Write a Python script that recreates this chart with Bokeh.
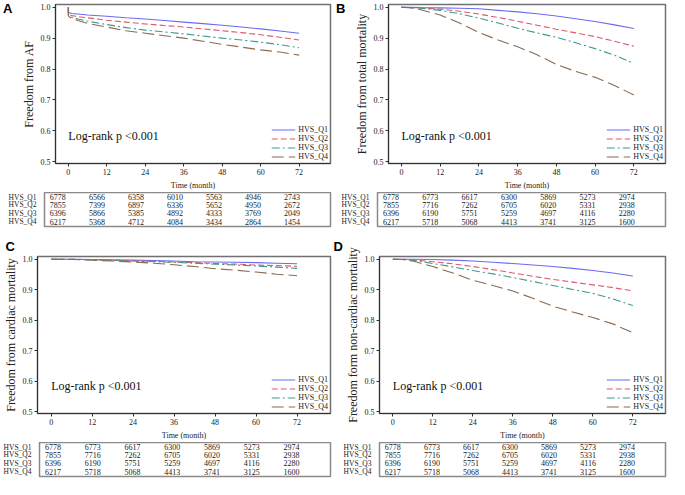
from bokeh.plotting import figure
from bokeh.models import (Range1d, FixedTicker, Legend, LegendItem, Label, ColumnDataSource,
                          LinearAxis, Title)
from bokeh.layouts import column, row
from bokeh.embed import file_html
from bokeh.resources import INLINE
from bokeh.core.properties import value

# ---------------- data ----------------
groups = ["HVS_Q1", "HVS_Q2", "HVS_Q3", "HVS_Q4"]
x_ticks = [0, 12, 24, 36, 48, 60, 72]
y_ticks = [0.5, 0.6, 0.7, 0.8, 0.9, 1.0]
risk_times = [0, 12, 24, 36, 48, 60, 72]

# Panel A: freedom from AF
A_time = [0, 0, 1, 3, 6, 12, 18, 24, 30, 36, 42, 48, 54, 60, 66, 72]
A_q1 = [1.0, 0.984, 0.980, 0.978, 0.975, 0.971, 0.966, 0.962, 0.957, 0.952, 0.947, 0.942, 0.936, 0.930, 0.923, 0.916]
A_q2 = [1.0, 0.978, 0.973, 0.970, 0.966, 0.958, 0.952, 0.946, 0.941, 0.936, 0.930, 0.924, 0.918, 0.911, 0.903, 0.894]
A_q3 = [1.0, 0.975, 0.968, 0.962, 0.955, 0.944, 0.934, 0.926, 0.920, 0.914, 0.907, 0.900, 0.894, 0.887, 0.879, 0.869]
A_q4 = [1.0, 0.972, 0.964, 0.957, 0.948, 0.936, 0.924, 0.916, 0.908, 0.900, 0.890, 0.880, 0.871, 0.862, 0.855, 0.845]
A_risk_q1 = [6778, 6566, 6358, 6010, 5563, 4946, 2743]
A_risk_q2 = [7855, 7399, 6897, 6336, 5652, 4950, 2672]
A_risk_q3 = [6396, 5866, 5385, 4892, 4333, 3769, 2049]
A_risk_q4 = [6217, 5368, 4712, 4084, 3434, 2864, 1454]

# Panel B: freedom from total mortality
B_time = [0, 3, 6, 12, 18, 24, 30, 36, 42, 48, 54, 60, 66, 72]
B_q1 = [1.0, 1.0, 0.999, 0.998, 0.997, 0.995, 0.990, 0.985, 0.979, 0.972, 0.963, 0.954, 0.943, 0.931]
B_q2 = [1.0, 0.999, 0.998, 0.994, 0.987, 0.978, 0.967, 0.955, 0.942, 0.929, 0.917, 0.905, 0.890, 0.874]
B_q3 = [1.0, 0.999, 0.997, 0.990, 0.979, 0.965, 0.949, 0.932, 0.917, 0.903, 0.885, 0.866, 0.845, 0.818]
B_q4 = [1.0, 0.998, 0.992, 0.975, 0.949, 0.918, 0.894, 0.872, 0.846, 0.815, 0.792, 0.773, 0.747, 0.716]

# Panel C: freedom from cardiac mortality
C_time = [0, 6, 12, 18, 24, 30, 36, 42, 48, 54, 60, 66, 72]
C_q1 = [1.0, 1.0, 0.999, 0.998, 0.997, 0.996, 0.994, 0.992, 0.991, 0.990, 0.989, 0.987, 0.985]
C_q2 = [1.0, 1.0, 0.999, 0.997, 0.995, 0.993, 0.991, 0.989, 0.986, 0.984, 0.981, 0.979, 0.977]
C_q3 = [1.0, 1.0, 0.998, 0.996, 0.994, 0.992, 0.990, 0.987, 0.984, 0.981, 0.978, 0.974, 0.970]
C_q4 = [1.0, 0.999, 0.997, 0.994, 0.991, 0.987, 0.982, 0.976, 0.969, 0.964, 0.958, 0.951, 0.946]

# Panel D: freedom from non-cardiac mortality
D_time = [0, 3, 6, 12, 18, 24, 30, 36, 42, 48, 54, 60, 66, 72]
D_q1 = [1.0, 1.0, 1.0, 0.999, 0.997, 0.994, 0.990, 0.986, 0.981, 0.976, 0.970, 0.963, 0.955, 0.945]
D_q2 = [1.0, 1.0, 0.998, 0.992, 0.985, 0.976, 0.966, 0.955, 0.944, 0.934, 0.925, 0.916, 0.907, 0.896]
D_q3 = [1.0, 0.999, 0.997, 0.986, 0.975, 0.963, 0.952, 0.940, 0.927, 0.914, 0.901, 0.888, 0.870, 0.848]
D_q4 = [1.0, 0.999, 0.994, 0.976, 0.955, 0.931, 0.914, 0.896, 0.872, 0.846, 0.827, 0.809, 0.788, 0.759]

# Risk table shared by B, C, D
M_risk_q1 = [6778, 6773, 6617, 6300, 5869, 5273, 2974]
M_risk_q2 = [7855, 7716, 7262, 6705, 6020, 5331, 2938]
M_risk_q3 = [6396, 6190, 5751, 5259, 4697, 4116, 2280]
M_risk_q4 = [6217, 5718, 5068, 4413, 3741, 3125, 1600]

# ---------------- style ----------------
colors = ["#6b6bf2", "#dc5a6c", "#3e9a8c", "#8c6a4e"]
dashes = ["solid", "6 3", "8 3 2 3", "12 5"]
SERIF = "Liberation Serif"
SANS = "Liberation Sans"


def km_fig(letter, letter_mode, ylabel, times, curves, width, left, height, top):
    p = figure(width=width, height=height, output_backend="svg", toolbar_location=None,
               x_range=Range1d(-4, 81.8), y_range=Range1d(0.494, 1.009),
               min_border_left=left, min_border_right=3, min_border_top=top,
               min_border_bottom=26)
    p.xgrid.visible = False
    p.ygrid.visible = False
    p.outline_line_color = "#707070"
    p.outline_line_width = 1.5
    p.background_fill_color = "white"
    p.border_fill_color = "white"

    renderers = []
    for vals, c, d in zip(curves, colors, dashes):
        r = p.line(times, vals, line_color=c, line_dash=d, line_width=1.1)
        renderers.append(r)

    for ax in (p.xaxis[0], p.yaxis[0]):
        ax.axis_line_color = "#303030"
        ax.major_tick_line_color = "#303030"
        ax.major_tick_out = 3
        ax.major_tick_in = 0
        ax.minor_tick_line_color = None
        ax.major_label_text_font = SERIF
        ax.major_label_text_font_size = "8px"
        ax.major_label_text_color = "#222222"
        ax.major_label_standoff = 2
        ax.axis_label_text_font = SERIF
        ax.axis_label_text_font_style = "normal"
        ax.axis_label_text_color = "#222222"

    p.xaxis.ticker = FixedTicker(ticks=x_ticks)
    p.yaxis.ticker = FixedTicker(ticks=y_ticks)
    p.yaxis.major_label_overrides = {t: f"{t:.1f}" for t in y_ticks}
    p.xaxis.axis_label = "Time (month)"
    p.xaxis.axis_label_text_font_size = "8px"
    p.xaxis.axis_label_standoff = 3
    p.yaxis.axis_label = ylabel
    p.yaxis.axis_label_text_font_size = "12px"
    p.yaxis.axis_label_standoff = 2

    legend = Legend(items=[LegendItem(label=g, renderers=[r]) for g, r in zip(groups, renderers)],
                    location="bottom_right", border_line_color=None,
                    background_fill_alpha=0.0, label_text_font=SERIF,
                    label_text_font_size="8px", label_text_color="#222222",
                    glyph_width=24, glyph_height=9, label_height=9, spacing=0,
                    padding=0, margin=2, label_standoff=3)
    p.add_layout(legend)

    p.add_layout(Label(x=0, y=0.584, text="Log-rank p <0.001", text_font=SERIF,
                       text_font_size="12px", text_baseline="middle", text_color="#111111"))

    if letter_mode == "axis":
        # panel letter as an outer left axis label at the top of the scale
        lab = LinearAxis(ticker=FixedTicker(ticks=[1.0]))
        lab.major_label_overrides = {1.0: letter}
        lab.axis_line_color = None
        lab.major_tick_line_color = None
        lab.minor_tick_line_color = None
        lab.major_label_standoff = 0
        lab.major_label_text_font = SANS
        lab.major_label_text_font_style = "bold"
        lab.major_label_text_font_size = "13px"
        lab.major_label_text_color = "black"
        p.add_layout(lab, "left")
    else:
        t = Title(text=letter, align="left", offset=-left, text_font=SANS,
                  text_font_style="bold", text_font_size="13px", text_color="black")
        try:
            t.standoff = 6
        except Exception:
            pass
        p.add_layout(t, "above")
    return p


def table_fig(risks, width, left):
    xs, ys, txt = [], [], []
    for i, rk in enumerate(risks):
        for t, v in zip(risk_times, rk):
            xs.append(t)
            ys.append(i)
            txt.append(str(v))
    src = ColumnDataSource(dict(x=xs, y=ys, t=txt))
    p = figure(width=width, height=36, output_backend="svg", toolbar_location=None,
               x_range=Range1d(-4.1, 83.8), y_range=Range1d(3.6, -0.5),
               min_border_left=left, min_border_right=3, min_border_top=0,
               min_border_bottom=2)
    p.xgrid.visible = False
    p.ygrid.visible = False
    p.xaxis.visible = False
    p.outline_line_color = "#8a8a8a"
    p.outline_line_width = 1.5
    p.text(x="x", y="y", text="t", source=src, text_font=value(SERIF),
           text_font_size="8px", text_align="center", text_baseline="middle",
           text_color="#222222")
    ax = p.yaxis[0]
    ax.ticker = FixedTicker(ticks=[0, 1, 2, 3])
    ax.major_label_overrides = {i: g for i, g in enumerate(groups)}
    ax.axis_line_color = None
    ax.major_tick_line_color = None
    ax.minor_tick_line_color = None
    ax.major_label_standoff = 2
    ax.major_label_text_font = SERIF
    ax.major_label_text_font_size = "7.5px"
    ax.major_label_text_color = "#222222"
    return p


W1, W2 = 333, 335
LA, LB, LC, LD = 44, 44, 32, 46

pA = km_fig("A", "axis", "Freedom from AF", A_time, [A_q1, A_q2, A_q3, A_q4], W1, LA, 192, 4)
pB = km_fig("B", "axis", "Freedom from total mortality", B_time, [B_q1, B_q2, B_q3, B_q4], W2, LB, 192, 4)
pC = km_fig("C", "title", "Freedom from cardiac mortality", C_time, [C_q1, C_q2, C_q3, C_q4], W1, LC, 214, 28)
pD = km_fig("D", "title", "Freedom form non-cardiac mortality", D_time, [D_q1, D_q2, D_q3, D_q4], W2, LD, 214, 28)

tA = table_fig([A_risk_q1, A_risk_q2, A_risk_q3, A_risk_q4], W1, LA)
tB = table_fig([M_risk_q1, M_risk_q2, M_risk_q3, M_risk_q4], W2, LB)
tC = table_fig([M_risk_q1, M_risk_q2, M_risk_q3, M_risk_q4], W1, LC)
tD = table_fig([M_risk_q1, M_risk_q2, M_risk_q3, M_risk_q4], W2, LD)

layout = column(row(pA, pB, spacing=0), row(tA, tB, spacing=0),
                row(pC, pD, spacing=0), row(tC, tD, spacing=0), spacing=0)

open("out.html", "w").write(file_html(layout, INLINE))
